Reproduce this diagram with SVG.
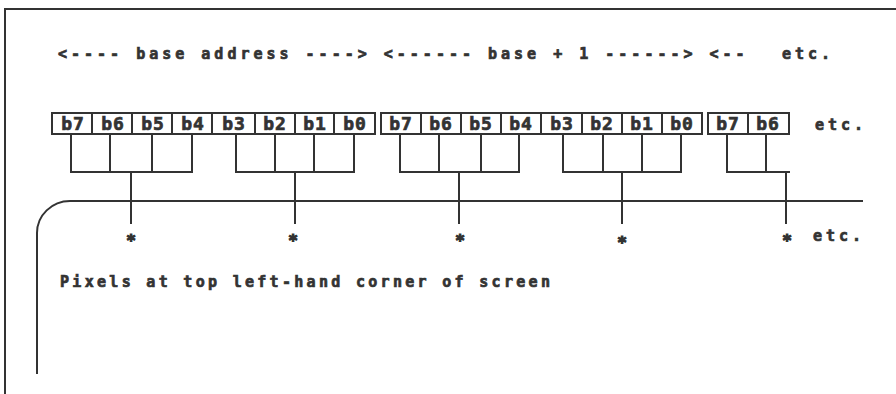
<svg xmlns="http://www.w3.org/2000/svg" width="896" height="394" viewBox="0 0 896 394">
<style>
  .ln{fill:none;stroke:#333;stroke-width:2;stroke-linecap:square}
  .box{fill:#fff;stroke:#333;stroke-width:2}
  .t{font-family:"DejaVu Sans Mono","Liberation Mono",monospace;font-weight:bold;fill:#333;stroke:#333;stroke-width:0.7px;font-size:15px;letter-spacing:4px}
  .b{font-family:"DejaVu Sans Mono","Liberation Mono",monospace;font-weight:bold;fill:#333;stroke:#333;stroke-width:0.7px;font-size:18px;text-anchor:middle;letter-spacing:1px}
  .s{font-family:"DejaVu Sans Mono","Liberation Mono",monospace;font-weight:bold;fill:#333;stroke:#333;stroke-width:1.2px;font-size:16px;text-anchor:middle}
</style>
<rect width="896" height="394" fill="#fff"/>
<g id="frame">
  <path class="ln" d="M5,394 L5,9 L896,9"/>
</g>
<g id="header">
  <text class="t" x="58" y="59" xml:space="preserve">&lt;---- base address ----&gt; &lt;------ base + 1 ------&gt; &lt;--</text>
  <text class="t" x="782" y="59">etc.</text>
</g>
<g id="byte0">
  <rect class="box" x="52" y="113" width="323" height="21"/>
  <path class="ln" d="M92,113V134M132,113V134M172,113V134M212,113V134M255,113V134M295,113V134M334,113V134"/>
  <text class="b" x="73" y="130">b7</text>
  <text class="b" x="113" y="130">b6</text>
  <text class="b" x="153" y="130">b5</text>
  <text class="b" x="193" y="130">b4</text>
  <text class="b" x="234" y="130">b3</text>
  <text class="b" x="275" y="130">b2</text>
  <text class="b" x="315" y="130">b1</text>
  <text class="b" x="355" y="130">b0</text>
</g>
<g id="byte1">
  <rect class="box" x="381" y="113" width="321" height="21"/>
  <path class="ln" d="M421,113V134M461,113V134M501,113V134M541,113V134M582,113V134M622,113V134M662,113V134"/>
  <text class="b" x="401" y="130">b7</text>
  <text class="b" x="441" y="130">b6</text>
  <text class="b" x="481" y="130">b5</text>
  <text class="b" x="521" y="130">b4</text>
  <text class="b" x="562" y="130">b3</text>
  <text class="b" x="602" y="130">b2</text>
  <text class="b" x="642" y="130">b1</text>
  <text class="b" x="682" y="130">b0</text>
</g>
<g id="byte2">
  <rect class="box" x="708" y="113" width="81" height="21"/>
  <path class="ln" d="M748,113V134"/>
  <text class="b" x="728" y="130">b7</text>
  <text class="b" x="768" y="130">b6</text>
</g>
<g id="etc-bits">
  <text class="t" x="815" y="130">etc.</text>
</g>
<g id="connectors">
  <path class="ln" d="M71,134V172M110,134V172M152,134V172M192,134V172M71,172H192M131,172V223"/>
  <path class="ln" d="M236,134V172M275,134V172M314,134V172M354,134V172M236,172H354M295,172V223"/>
  <path class="ln" d="M400,134V172M439,134V172M481,134V172M519,134V172M400,172H519M459,172V223"/>
  <path class="ln" d="M563,134V172M603,134V172M642,134V172M681,134V172M563,172H681M622,172V223"/>
  <path class="ln" d="M727,134V172M766,134V172M727,172H789M786,172V223"/>
</g>
<g id="screen">
  <path class="ln" d="M37,373 L37,233 A33,32 0 0 1 70,201 L862,201" stroke-width="2.5"/>
</g>
<g id="pixels">
  <text class="s" x="131" y="246">*</text>
  <text class="s" x="293" y="246">*</text>
  <text class="s" x="460" y="246">*</text>
  <text class="s" x="622" y="248">*</text>
  <text class="s" x="787" y="246">*</text>
  <text class="t" x="813" y="241">etc.</text>
</g>
<g id="caption">
  <text class="t" x="60" y="287" style="letter-spacing:3.3px">Pixels at top left-hand corner of screen</text>
</g>
</svg>
